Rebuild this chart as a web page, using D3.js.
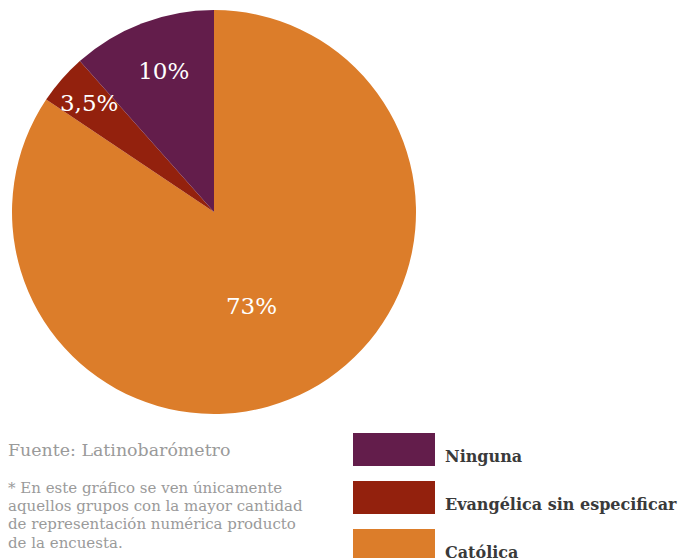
<!DOCTYPE html>
<html>
<head>
<meta charset="utf-8">
<script src="https://cdn.jsdelivr.net/npm/d3@7"></script>
<style>
  html, body { margin: 0; padding: 0; background: #fff; }
  svg { display: block; }
  text { font-family: "DejaVu Serif", serif; }
</style>
</head>
<body>
<svg id="chart" width="684" height="558"></svg>
<script>
// Religious affiliation shares (percent)
const categories = ["Católica", "Evangélica sin especificar", "Ninguna"];
const values = [73, 3.5, 10];
const valueLabels = ["73%", "3,5%", "10%"];
const colors = ["#dc7d2a", "#93210d", "#631d4b"];
// Legend order, top to bottom
const legendOrder = ["Ninguna", "Evangélica sin especificar", "Católica"];
const sourceText = "Fuente: Latinobarómetro";
const noteLines = [
  "* En este gráfico se ven únicamente",
  "aquellos grupos con la mayor cantidad",
  "de representación numérica producto",
  "de la encuesta."
];

const svg = d3.select("#chart");
const cx = 214, cy = 212, radius = 202;

const color = d3.scaleOrdinal().domain(categories).range(colors);

const pie = d3.pie().sort(null).value(d => d.value);
const data = categories.map((c, i) => ({ name: c, value: values[i], label: valueLabels[i] }));
const arcs = pie(data);

const arc = d3.arc().innerRadius(0).outerRadius(radius);

const g = svg.append("g").attr("transform", `translate(${cx},${cy})`);

g.selectAll("path.slice")
  .data(arcs)
  .join("path")
  .attr("class", "slice")
  .attr("d", arc)
  .attr("fill", d => color(d.data.name));

// label radius per slice (fraction of the pie radius)
const labelRadius = { "Católica": 0.5, "Evangélica sin especificar": 0.82, "Ninguna": 0.74 };
const labelShift = { "Católica": 0.11, "Evangélica sin especificar": 0, "Ninguna": 0.02 };

g.selectAll("text.value")
  .data(arcs)
  .join("text")
  .attr("class", "value")
  .attr("transform", d => {
    const r = radius * labelRadius[d.data.name];
    const a = (d.startAngle + d.endAngle) / 2 + labelShift[d.data.name];
    return `translate(${r * Math.sin(a)},${-r * Math.cos(a)})`;
  })
  .attr("text-anchor", "middle")
  .attr("dy", "0.35em")
  .attr("fill", "#fff")
  .attr("font-size", 23)
  .text(d => d.data.label);

// Legend
const legend = svg.append("g").attr("transform", "translate(353,433)");
const legendY = d3.scalePoint().domain(legendOrder).range([0, 96]);
const items = legend.selectAll("g.item")
  .data(legendOrder)
  .join("g")
  .attr("class", "item")
  .attr("transform", d => `translate(0,${legendY(d)})`);
items.append("rect")
  .attr("width", 82)
  .attr("height", 33)
  .attr("fill", d => color(d));
items.append("text")
  .attr("x", 92)
  .attr("y", 29)
  .attr("font-size", 16)
  .attr("font-weight", "bold")
  .attr("fill", "#3a3a3a")
  .text(d => d);

// Source and note
svg.append("text")
  .attr("x", 8)
  .attr("y", 456)
  .attr("font-size", 17.4)
  .attr("fill", "#9a9a9a")
  .text(sourceText);

svg.append("g")
  .selectAll("text")
  .data(noteLines)
  .join("text")
  .attr("x", 8)
  .attr("y", (d, i) => 492.7 + i * 18.3)
  .attr("font-size", 15)
  .attr("fill", "#9a9a9a")
  .text(d => d);
</script>
</body>
</html>
